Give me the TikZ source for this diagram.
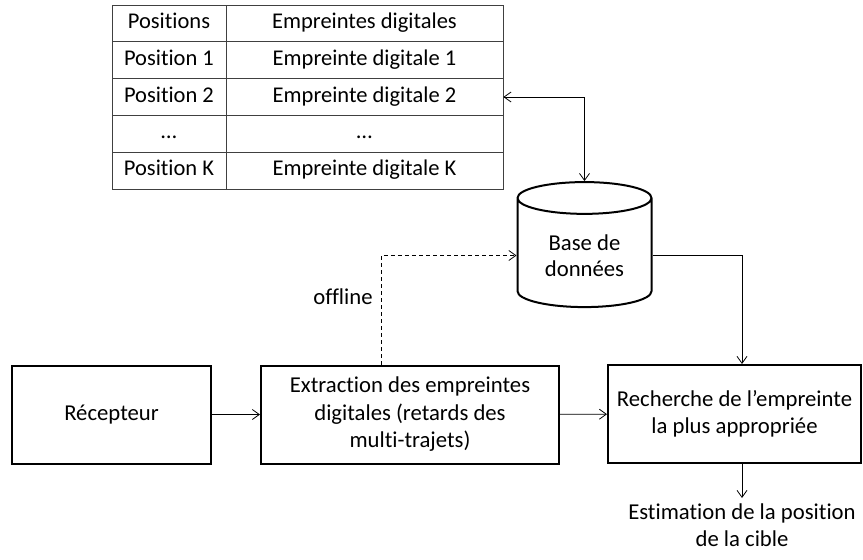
\documentclass[tikz,border=0pt]{standalone}
\usepackage{fontspec}
\setmainfont{Carlito}[Ligatures=CommonOff]
\usetikzlibrary{shapes.geometric,arrows.meta,calc}

\tikzset{
  cell/.style={draw=black!75, line width=0.8pt, minimum height=36.8pt, inner sep=0pt,
    text height=15pt, text depth=5pt, font=\fontsize{22.5}{26}\selectfont},
  block/.style={draw, line width=2pt, minimum height=98pt, inner sep=0pt, align=center,
    font=\fontsize{22.7}{27.5}\selectfont},
  link/.style={line width=0.8pt, ->},
}

\begin{document}
\begin{tikzpicture}[x=1pt, y=-1pt, >={Straight Barb[length=7pt,width=10pt]}]
  \useasboundingbox (0,0) rectangle (863,560);

  % Table of fingerprints
  \node[cell, minimum width=114pt] (P0) at (169, 23.4)  {Positions};
  \node[cell, minimum width=277pt] (E0) at (364.5, 23.4) {Empreintes digitales};
  \node[cell, minimum width=114pt] (P1) at (169, 60.2)  {Position 1};
  \node[cell, minimum width=277pt] (E1) at (364.5, 60.2) {Empreinte digitale 1};
  \node[cell, minimum width=114pt] (P2) at (169, 97)    {Position 2};
  \node[cell, minimum width=277pt] (E2) at (364.5, 97)   {Empreinte digitale 2};
  \node[cell, minimum width=114pt] (P3) at (169, 133.8) {\dots};
  \node[cell, minimum width=277pt] (E3) at (364.5, 133.8) {\dots};
  \node[cell, minimum width=114pt] (P4) at (169, 170.6) {Position K};
  \node[cell, minimum width=277pt] (E4) at (364.5, 170.6) {Empreinte digitale K};

  % Database
  \node[cylinder, draw, line width=2pt, shape border rotate=90, aspect=0.37,
    minimum width=134pt, minimum height=125pt, align=center,
    font=\fontsize{22.7}{26.5}\selectfont] (db) at (584.5, 255.5) {Base de\\données};

  % Processing chain
  \node[block, minimum width=199pt] (rec)  at (111.5, 414.5) {Récepteur};
  \node[block, minimum width=298pt] (ext)  at (410, 414.5)   {Extraction des empreintes\\digitales (retards des\\multi-trajets)};
  \node[block, minimum width=253pt] (rech) at (734.5, 414)   {Recherche de l’empreinte\\la plus appropriée};
  \node[align=center, anchor=north, inner ysep=6pt, inner xsep=0pt,
    font=\fontsize{22.7}{26.5}\selectfont] (est) at (742, 498) {Estimation de la position\\de la cible};

  \draw[link] (rec) -- (ext);
  \draw[link] (ext) -- (rech);
  \draw[link, dash pattern=on 4pt off 3pt] ($(ext.north west)+(121,0)$) |- node[pos=0.31, left, inner xsep=8pt, font=\fontsize{22.7}{26.5}\selectfont] {offline} (db.west);
  \draw[link] (db.east) -| (rech.north -| est.north);
  \draw[link] (rech.south -| est.north) -- (est.north);
  \draw[line width=0.8pt, <->] (E2.east) -| (db.north);
\end{tikzpicture}
\end{document}
